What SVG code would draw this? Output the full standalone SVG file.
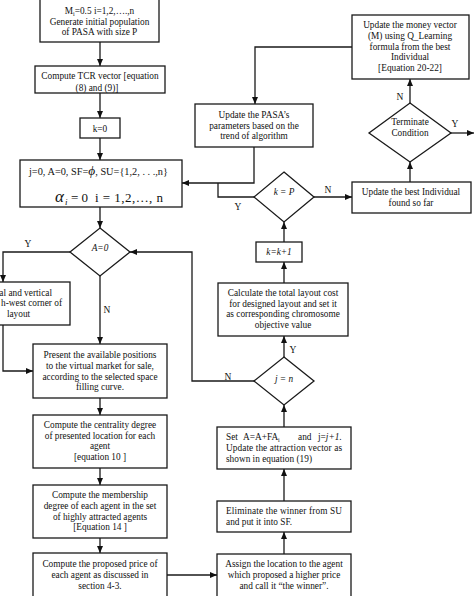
<svg xmlns="http://www.w3.org/2000/svg" width="474" height="596" viewBox="0 0 474 596">
<defs>
<marker id="ah" markerWidth="7" markerHeight="6" refX="7" refY="3" orient="auto" markerUnits="userSpaceOnUse">
<path d="M0,0 L7,3 L0,6 Z" fill="#111"/>
</marker>
<style>
.b{fill:#fff;stroke:#1a1a1a;stroke-width:1.3}
.t{font-family:"Liberation Serif","Times New Roman",serif;font-size:9.3px;fill:#111;text-anchor:middle}
.s{text-anchor:start}
.e{text-anchor:end}
.i{font-style:italic}
.l{font-family:"Liberation Serif","Times New Roman",serif;font-size:9.5px;fill:#111;text-anchor:middle}
.c{fill:none;stroke:#1a1a1a;stroke-width:1.3}
.a{marker-end:url(#ah)}
</style>
</defs>
<rect width="474" height="596" fill="#fff"/>
<g id="connectors">
<path class="c a" d="M100,42 V66"/>
<path class="c a" d="M100,93 V118"/>
<path class="c a" d="M100,138 V160"/>
<path class="c a" d="M100,207 V228"/>
<path class="c a" d="M70,252 H3 V282"/>
<path class="c a" d="M100,276 V344"/>
<path class="c a" d="M254,381 H192 V252 H130"/>
<path class="c a" d="M3,325 V371 H33"/>
<path class="c a" d="M100,398 V415"/>
<path class="c a" d="M100,468 V485"/>
<path class="c a" d="M100,538 V553"/>
<path class="c a" d="M167,575 H217"/>
<path class="c a" d="M284,554 V532"/>
<path class="c a" d="M284,501 V469"/>
<path class="c a" d="M284,427 V405"/>
<path class="c a" d="M284,357 V336"/>
<path class="c a" d="M284,283 V262"/>
<path class="c a" d="M284,242 V222"/>
<path class="c" d="M254,197 H218 V183"/>
<path class="c a" d="M254,147 V183 H182"/>
<path class="c a" d="M314,197 H352"/>
<path class="c a" d="M410,182 V162"/>
<path class="c a" d="M451,133 H474"/>
<path class="c a" d="M410,103 V79"/>
<path class="c a" d="M352,47 H255 V104"/>
<text class="l" x="28" y="247">Y</text>
<text class="l" x="107" y="313">N</text>
<text class="l" x="228" y="380">N</text>
<text class="l" x="293" y="353">Y</text>
<text class="l" x="238" y="210">Y</text>
<text class="l" x="328" y="193">N</text>
<text class="l" x="455" y="127">Y</text>
<text class="l" x="400" y="100">N</text>
</g>
<g id="init">
<rect class="b" x="40" y="-5" width="119" height="47"/>
<text class="t" x="99.5" y="13.5">M<tspan font-size="6" dy="2">i</tspan><tspan dy="-2">=0.5 i=1,2,….,n</tspan></text>
<text class="t" x="99.5" y="24.5">Generate initial population</text>
<text class="t" x="99.5" y="35">of PASA with size P</text>
</g>
<g id="tcr">
<rect class="b" x="35" y="66" width="130" height="27"/>
<text class="t" x="100" y="79">Compute TCR vector [equation</text>
<text class="t" x="97" y="90.5">(8) and (9)]</text>
</g>
<g id="k0">
<rect class="b" x="80" y="118" width="40" height="20"/>
<text class="t" x="100" y="131.5">k=0</text>
</g>
<g id="reset">
<rect class="b" x="20" y="160" width="162" height="47"/>
<text class="t" x="98.5" y="175" textLength="139" lengthAdjust="spacingAndGlyphs">j=0, A=0, SF=<tspan class="i" font-size="12">ϕ</tspan>, SU={1,2, . . .,n}</text>
<text class="t s i" x="55" y="202" style="font-size:17px">α</text>
<text class="t s i" x="65" y="204.5" style="font-size:9px">i</text>
<text class="t s" x="71" y="202" style="font-size:13px">= 0</text>
<text class="t s" x="95" y="202" style="font-size:13px" textLength="68" lengthAdjust="spacing">i = 1,2,…, n</text>
</g>
<g id="a0">
<polygon class="b" points="100,228 130,252 100,276 70,252"/>
<text class="t i" x="100" y="251">A=0</text>
</g>
<g id="leftbox">
<rect class="b" x="-40" y="282" width="110" height="43"/>
<text class="t e" x="52" y="295.7">al and vertical</text>
<text class="t e" x="62" y="306.3">h-west corner of</text>
<text class="t" x="18.5" y="317">layout</text>
</g>
<g id="present">
<rect class="b" x="33" y="344" width="134" height="54"/>
<text class="t" x="100" y="358">Present the available positions</text>
<text class="t" x="100" y="368.7">to the virtual market for sale,</text>
<text class="t" x="100" y="379.7">according to the selected space</text>
<text class="t" x="100" y="389.7">filling curve.</text>
</g>
<g id="centrality">
<rect class="b" x="33" y="415" width="134" height="53"/>
<text class="t" x="100" y="428">Compute the centrality degree</text>
<text class="t" x="100" y="438.7">of presented location for each</text>
<text class="t" x="100" y="449">agent</text>
<text class="t" x="100" y="459.7">[equation 10 ]</text>
</g>
<g id="membership">
<rect class="b" x="33" y="485" width="134" height="53"/>
<text class="t" x="100" y="498">Compute the membership</text>
<text class="t" x="100" y="509">degree of each agent in the set</text>
<text class="t" x="100" y="519.7">of highly attracted agents</text>
<text class="t" x="100" y="530.3">[Equation 14 ]</text>
</g>
<g id="price">
<rect class="b" x="33" y="553" width="134" height="50"/>
<text class="t" x="100" y="567">Compute the proposed price of</text>
<text class="t" x="100" y="578">each agent as discussed in</text>
<text class="t" x="100" y="589">section 4-3.</text>
</g>
<g id="assign">
<rect class="b" x="217" y="554" width="134" height="50"/>
<text class="t" x="284" y="567">Assign the location to the agent</text>
<text class="t" x="284" y="578">which proposed a higher price</text>
<text class="t" x="284" y="589">and call it “the winner”.</text>
</g>
<g id="eliminate">
<rect class="b" x="217" y="501" width="134" height="31"/>
<text class="t s" x="226" y="514" textLength="116" lengthAdjust="spacing">Eliminate the winner from SU</text>
<text class="t s" x="226" y="525">and put it into SF.</text>
</g>
<g id="set">
<rect class="b" x="217" y="427" width="134" height="42"/>
<text class="t s" x="226" y="440">Set</text>
<text class="t s" x="243" y="440">A=A+FA<tspan font-size="6" dy="2">i</tspan></text>
<text class="t s" x="298" y="440">and</text>
<text class="t s" x="318" y="440">j=<tspan class="i">j+1</tspan>.</text>
<text class="t s" x="226" y="451" textLength="116" lengthAdjust="spacing">Update the attraction vector as</text>
<text class="t s" x="226" y="462">shown in equation (19)</text>
</g>
<g id="jn">
<polygon class="b" points="284,357 314,381 284,405 254,381"/>
<text class="t i" x="284" y="381.5">j = n</text>
</g>
<g id="calc">
<rect class="b" x="218" y="283" width="130" height="53"/>
<text class="t" x="283" y="296.3">Calculate the total layout cost</text>
<text class="t" x="283" y="307">for designed layout and set it</text>
<text class="t" x="283" y="317.3">as corresponding chromosome</text>
<text class="t" x="283" y="328">objective value</text>
</g>
<g id="kinc">
<rect class="b" x="256" y="242" width="46" height="20"/>
<text class="t i" x="279" y="255">k=k+1</text>
</g>
<g id="kp">
<polygon class="b" points="284,172 314,197 284,222 254,197"/>
<text class="t i" x="284" y="195">k = P</text>
</g>
<g id="pasa">
<rect class="b" x="195" y="104" width="118" height="43"/>
<text class="t" x="254" y="118">Update the PASA’s</text>
<text class="t" x="254" y="128.7">parameters based on the</text>
<text class="t" x="254" y="139">trend of algorithm</text>
</g>
<g id="best">
<rect class="b" x="352" y="182" width="119" height="31"/>
<text class="t" x="411" y="195.3">Update the best Individual</text>
<text class="t" x="411" y="206.3">found so far</text>
</g>
<g id="terminate">
<polygon class="b" points="410,103 451,133 410,162 369,133"/>
<text class="t" x="410" y="125.3">Terminate</text>
<text class="t" x="410" y="136.3">Condition</text>
</g>
<g id="money">
<rect class="b" x="352" y="15" width="117" height="64"/>
<text class="t" x="410" y="28">Update the money vector</text>
<text class="t" x="410" y="39">(M) using Q_Learning</text>
<text class="t" x="410" y="49.7">formula from the best</text>
<text class="t" x="410" y="60.3">Individual</text>
<text class="t" x="410" y="71.3">[Equation 20-22]</text>
</g>
</svg>
